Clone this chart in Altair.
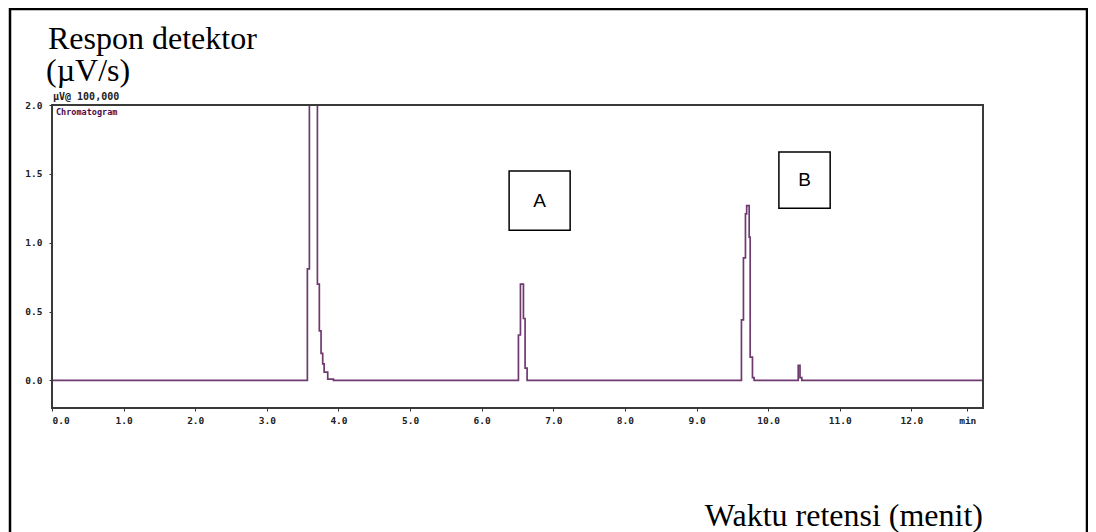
import altair as alt
import pandas as pd

# Chromatogram trace (step changes): retention time (min) and detector response
t = [0.0, 3.566, 3.594, 3.706, 3.733, 3.757, 3.780, 3.800, 3.850, 3.930,
     6.513, 6.541, 6.583, 6.606, 6.634,
     9.627, 9.655, 9.683, 9.700, 9.735, 9.749, 9.781, 9.804,
     10.420, 10.445, 10.470, 13.0]
v = [0.0, 0.81, 2.6, 0.70, 0.36, 0.196, 0.12, 0.06, 0.01, 0.0,
     0.33, 0.70, 0.45, 0.09, 0.0,
     0.44, 0.89, 1.21, 1.27, 1.04, 0.17, 0.02, 0.0,
     0.11, 0.02, 0.0, 0.0]

# Annotation boxes (data coordinates)
box_labels = ["A", "B"]
box_x1 = [6.383, 10.15]
box_x2 = [7.235, 10.866]
box_y1 = [1.09, 1.251]
box_y2 = [1.52, 1.658]

x_ticks = [0, 1, 2, 3, 4, 5, 6, 7, 8, 9, 10, 11, 12, 12.78]
y_ticks = [0, 0.5, 1.0, 1.5, 2.0]

trace = pd.DataFrame({"t": t, "v": v})
boxes = pd.DataFrame({"label": box_labels, "x1": box_x1, "x2": box_x2,
                      "y1": box_y1, "y2": box_y2})
boxes["xc"] = (boxes["x1"] + boxes["x2"]) / 2
boxes["yc"] = (boxes["y1"] + boxes["y2"]) / 2
one = pd.DataFrame({"a": [0]})

PIX = "DejaVu Sans Mono"
SERIF = "Liberation Serif"

xscale = alt.Scale(domain=[0, 13], nice=False, zero=False)
yscale = alt.Scale(domain=[-0.2, 2.0], nice=False, zero=False)

xaxis = alt.Axis(values=x_ticks, title=None, grid=False, domain=False,
                 labelExpr="datum.value > 12.5 ? 'min' : format(datum.value, '.1f')",
                 tickSize=3, tickColor="#333", labelFont=PIX, labelFontWeight="bold",
                 labelFontSize=9.5, labelColor="#222", labelPadding=4)
yaxis = alt.Axis(values=y_ticks, format=".1f", title=None, grid=False, domain=False,
                 tickSize=3, tickColor="#333", labelFont=PIX, labelFontWeight="bold",
                 labelFontSize=9.5, labelColor="#222", labelPadding=7)

frame = alt.Chart(one).mark_rect(fillOpacity=0, stroke="black", strokeWidth=2.5).encode(
    x=alt.value(-42), x2=alt.value(1035), y=alt.value(-96), y2=alt.value(440))

plot_frame = alt.Chart(one).mark_rect(fillOpacity=0, stroke="#3a3a3a", strokeWidth=2).encode(
    x=alt.value(0), x2=alt.value(931), y=alt.value(0), y2=alt.value(303))

line = alt.Chart(trace).mark_line(interpolate="step-after", clip=True,
                                  color="#6e3a70", strokeWidth=1.7).encode(
    x=alt.X("t:Q", scale=xscale, axis=xaxis),
    y=alt.Y("v:Q", scale=yscale, axis=yaxis))

rects = alt.Chart(boxes).mark_rect(fill="white", stroke="black", strokeWidth=1.5).encode(
    x=alt.X("x1:Q", scale=xscale), x2="x2:Q",
    y=alt.Y("y1:Q", scale=yscale), y2="y2:Q")

rect_text = alt.Chart(boxes).mark_text(font="Liberation Sans", fontSize=19,
                                       color="black").encode(
    x=alt.X("xc:Q", scale=xscale), y=alt.Y("yc:Q", scale=yscale), text="label:N")

def label(txt, x, y, **kw):
    return alt.Chart(one).mark_text(text=txt, **kw).encode(x=alt.value(x), y=alt.value(y))

t1 = label("Respon detektor", -4, -56, font=SERIF, fontSize=32, align="left",
           baseline="alphabetic", color="black")
t2 = label("(\u00b5V/s)", -6, -24, font=SERIF, fontSize=32, align="left",
           baseline="alphabetic", color="black")
t3 = label("Waktu retensi (menit)", 931, 421, font=SERIF, fontSize=32, align="right",
           baseline="alphabetic", color="black")
t4 = label("\u00b5V@ 100,000", 1, -8, font=PIX, fontSize=10, fontWeight="bold",
           align="left", baseline="middle", color="#222")
t5 = label("Chromatogram", 4, 7, font=PIX, fontSize=8.5, fontWeight="bold",
           align="left", baseline="middle", color="#4b0a4b")

chart = alt.layer(frame, line, plot_frame, rects, rect_text, t1, t2, t3, t4, t5).properties(
    width=931, height=303,
    padding={"left": 44, "top": 97, "right": 105, "bottom": 124},
    autosize=alt.AutoSizeParams(type="none"),
).configure_view(stroke=None).configure(background="white")

chart.save("out.html", embed_options={"renderer": "svg", "actions": False})
